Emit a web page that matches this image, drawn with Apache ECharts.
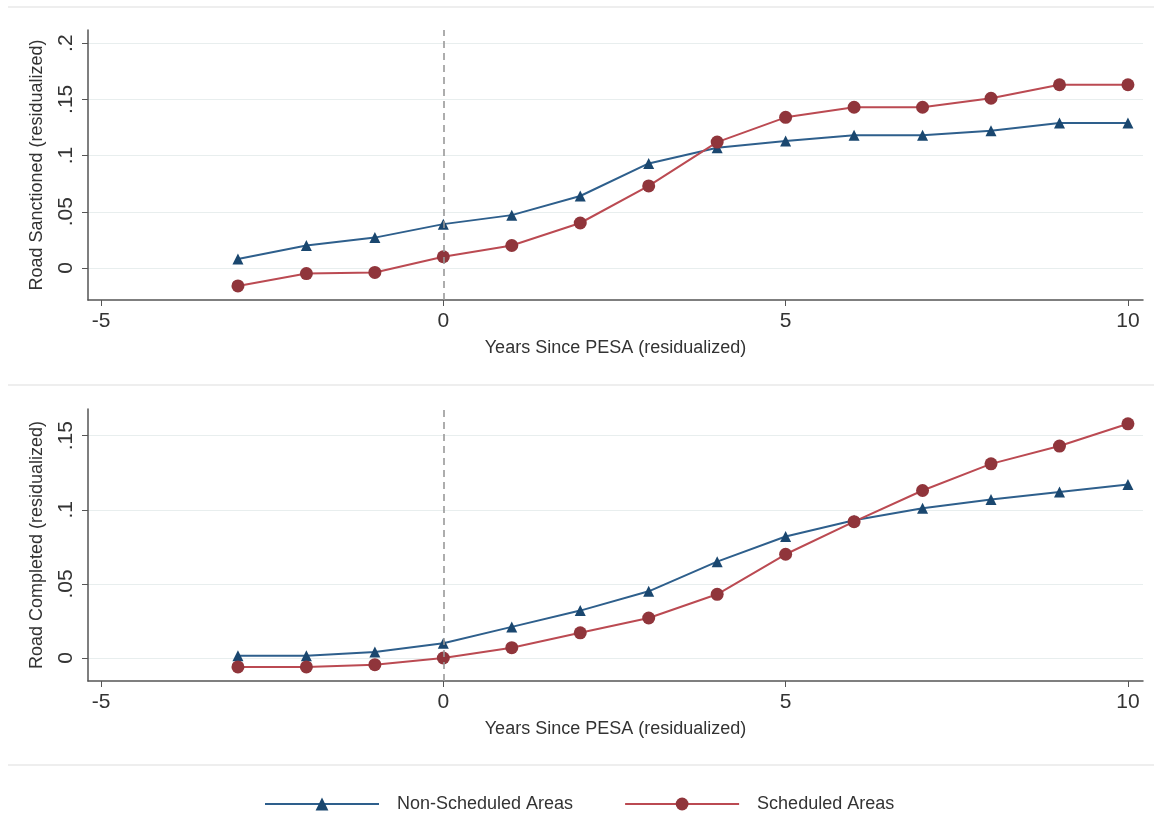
<!DOCTYPE html>
<html>
<head>
<meta charset="utf-8">
<script src="https://cdn.jsdelivr.net/npm/echarts@6/dist/echarts.min.js"></script>
<style>
html,body{margin:0;padding:0;background:#fff;}
#chart{width:1162px;height:817px;}
</style>
</head>
<body>
<div id="chart"></div>
<script>
// ---- Data ----
var years = [-3, -2, -1, 0, 1, 2, 3, 4, 5, 6, 7, 8, 9, 10];
var sanctionedNonScheduled = [0.008, 0.020, 0.027, 0.039, 0.047, 0.064, 0.093, 0.107, 0.113, 0.118, 0.118, 0.122, 0.129, 0.129];
var sanctionedScheduled   = [-0.016, -0.005, -0.004, 0.010, 0.020, 0.040, 0.073, 0.112, 0.134, 0.143, 0.143, 0.151, 0.163, 0.163];
var completedNonScheduled = [0.0015, 0.0015, 0.004, 0.010, 0.021, 0.032, 0.045, 0.065, 0.082, 0.093, 0.101, 0.107, 0.112, 0.117];
var completedScheduled    = [-0.006, -0.006, -0.0045, 0.000, 0.007, 0.017, 0.027, 0.043, 0.070, 0.092, 0.113, 0.131, 0.143, 0.158];
var xTicks = [-5, 0, 5, 10];
var yTicksTop = [0, 0.05, 0.1, 0.15, 0.2];
var yTicksBottom = [0, 0.05, 0.1, 0.15];
var seriesNames = ['Non-Scheduled Areas', 'Scheduled Areas'];

function pairs(xs, ys) { return xs.map(function (x, i) { return [x, ys[i]]; }); }
function fmtY(v) {
  if (Math.abs(v) < 1e-9) return '0';
  var s = String(Math.round(v * 1000) / 1000);
  return s.replace(/^0\./, '.').replace(/^-0\./, '-.');
}

var FONT = '"Liberation Sans", Arial, sans-serif';
var BLUE_LINE = '#2e5f8c', BLUE_MARK = '#1a476f';
var RED_LINE = '#bb4a52', RED_MARK = '#90353b';
var AXIS_COLOR = '#555';
var GRID_COLOR = '#e8eeee';

function xAxisCfg(gridIndex) {
  return {
    type: 'value', gridIndex: gridIndex, min: -5.19, max: 10.22,
    name: 'Years Since PESA (residualized)', nameLocation: 'middle', nameGap: 39,
    nameTextStyle: { fontFamily: FONT, fontSize: 18, color: '#333' },
    axisLine: { show: true, onZero: false, lineStyle: { color: AXIS_COLOR, width: 1.5 } },
    axisTick: { show: true, length: 6, customValues: xTicks, lineStyle: { color: AXIS_COLOR } },
    axisLabel: { customValues: xTicks, fontFamily: FONT, fontSize: 21, color: '#333', margin: 11 },
    splitLine: { show: false }
  };
}
function yAxisCfg(gridIndex, name, min, max, ticks) {
  return {
    type: 'value', gridIndex: gridIndex, min: min, max: max,
    name: name, nameLocation: 'middle', nameGap: 42,
    nameTextStyle: { fontFamily: FONT, fontSize: 18, color: '#333' },
    axisLine: { show: true, onZero: false, lineStyle: { color: AXIS_COLOR, width: 1.5 } },
    axisTick: { show: true, length: 6, customValues: ticks, lineStyle: { color: AXIS_COLOR } },
    axisLabel: { customValues: ticks, rotate: 90, formatter: fmtY, fontFamily: FONT, fontSize: 21, color: '#333', margin: 11 },
    splitLine: { show: true, lineStyle: { color: GRID_COLOR, width: 1.2 } }
  };
}
function lineSeries(name, xi, yi, data, isBlue, withMark) {
  var s = {
    name: name, type: 'line', xAxisIndex: xi, yAxisIndex: yi,
    data: data,
    symbol: isBlue ? 'triangle' : 'circle',
    symbolSize: isBlue ? 11 : 13,
    showAllSymbol: true,
    lineStyle: { color: isBlue ? BLUE_LINE : RED_LINE, width: 2 },
    itemStyle: { color: isBlue ? BLUE_MARK : RED_MARK, borderWidth: 0 },
    emphasis: { disabled: true },
    animation: false,
    z: isBlue ? 3 : 4
  };
  if (withMark) {
    s.markLine = {
      silent: true, symbol: ['none', 'none'], label: { show: false },
      lineStyle: { color: '#999', type: [7, 5], width: 1.6 },
      data: [{ xAxis: 0 }],
      animation: false
    };
  }
  return s;
}

var chart = echarts.init(document.getElementById('chart'), null, { renderer: 'canvas' });
chart.setOption({
  backgroundColor: '#fff',
  animation: false,
  grid: [
    { left: 88, right: 19, top: 30, height: 270, containLabel: false },
    { left: 88, right: 19, top: 409, height: 272, containLabel: false }
  ],
  xAxis: [xAxisCfg(0), xAxisCfg(1)],
  yAxis: [
    yAxisCfg(0, 'Road Sanctioned (residualized)', -0.0285, 0.2117, yTicksTop),
    yAxisCfg(1, 'Road Completed (residualized)', -0.0155, 0.168, yTicksBottom)
  ],
  legend: {
    data: seriesNames, left: 259, top: 790,
    itemWidth: 114, itemHeight: 16, itemGap: 51,
    textStyle: { fontFamily: FONT, fontSize: 18, color: '#333', padding: [0, 0, 0, 13] }
  },
  graphic: [
    { type: 'line', shape: { x1: 8, y1: 7, x2: 1154, y2: 7 }, style: { stroke: '#eeeeee', lineWidth: 2 }, silent: true },
    { type: 'line', shape: { x1: 8, y1: 385, x2: 1154, y2: 385 }, style: { stroke: '#eeeeee', lineWidth: 2 }, silent: true },
    { type: 'line', shape: { x1: 8, y1: 765, x2: 1154, y2: 765 }, style: { stroke: '#eeeeee', lineWidth: 2 }, silent: true }
  ],
  series: [
    lineSeries(seriesNames[0], 0, 0, pairs(years, sanctionedNonScheduled), true, true),
    lineSeries(seriesNames[1], 0, 0, pairs(years, sanctionedScheduled), false, false),
    lineSeries(seriesNames[0], 1, 1, pairs(years, completedNonScheduled), true, true),
    lineSeries(seriesNames[1], 1, 1, pairs(years, completedScheduled), false, false)
  ]
});
</script>
</body>
</html>
